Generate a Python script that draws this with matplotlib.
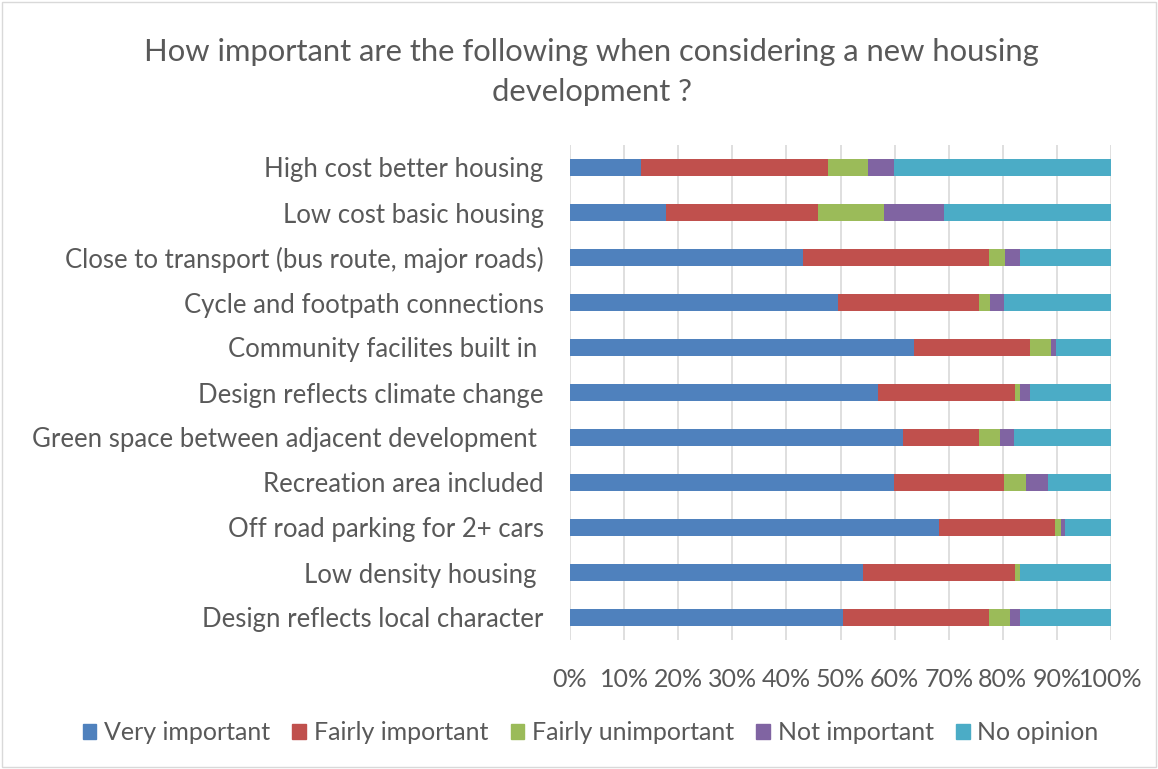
import matplotlib.pyplot as plt
import matplotlib.patches as mpatches
import numpy as np

plt.rcParams['font.family'] = ['Lato', 'DejaVu Sans']

# Survey answers, top row first (percent of respondents)
categories = [
    'High cost better housing',
    'Low cost basic housing',
    'Close to transport (bus route, major roads)',
    'Cycle and footpath connections',
    'Community facilites built in ',
    'Design reflects climate change',
    'Green space between adjacent development ',
    'Recreation area included',
    'Off road parking for 2+ cars',
    'Low density housing ',
    'Design reflects local character',
]
very_important = [13.1, 17.8, 43.0, 49.5, 63.5, 57.0, 61.6, 59.8, 68.2, 54.2, 50.4]
fairly_important = [34.5, 28.0, 34.5, 26.1, 21.6, 25.2, 14.0, 20.5, 21.5, 28.0, 27.1]
fairly_unimportant = [7.5, 12.2, 2.9, 2.0, 3.8, 1.0, 3.9, 4.0, 1.1, 1.0, 3.8]
not_important = [4.7, 11.2, 2.8, 2.7, 0.9, 1.9, 2.6, 4.0, 0.7, 0.0, 1.9]
no_opinion = [40.2, 30.8, 16.8, 19.7, 10.2, 14.9, 17.9, 11.7, 8.5, 16.8, 16.8]

series = [
    ('Very important', very_important, '#4F81BD'),
    ('Fairly important', fairly_important, '#C0504D'),
    ('Fairly unimportant', fairly_unimportant, '#9BBB59'),
    ('Not important', not_important, '#8064A2'),
    ('No opinion', no_opinion, '#4BACC6'),
]

text_color = '#595959'

fig = plt.figure(figsize=(11.58, 7.69), dpi=100)
ax = fig.add_axes([570 / 1158, 1 - 640 / 769, 541 / 1158, 495 / 769])

y = np.arange(len(categories))
left = np.zeros(len(categories))
for name, vals, color in series:
    vals = np.array(vals)
    ax.barh(y, vals, left=left, height=0.38, color=color, label=name, linewidth=0)
    left += vals

ax.set_xlim(0, 100)
ax.set_ylim(len(categories) - 0.5, -0.5)
ax.set_xticks(np.arange(0, 101, 10))
ax.set_xticklabels([f'{v}%' for v in range(0, 101, 10)])
ax.set_yticks(y)
ax.set_yticklabels(categories)
ax.tick_params(axis='x', length=0, pad=20, labelsize=18, labelcolor=text_color)
ax.tick_params(axis='y', length=0, pad=19, labelsize=18.5, labelcolor=text_color)
ax.grid(axis='x', color='#D9D9D9', linewidth=1.2)
ax.set_axisbelow(True)
for s in ax.spines.values():
    s.set_visible(False)

fig.text(0.511, 1 - 72 / 769,
         'How important are the following when considering a new housing\ndevelopment ?',
         ha='center', va='center', fontsize=22.3, color=text_color, linespacing=1.55)

handles = [mpatches.Patch(color=c, label=n) for n, _, c in series]
fig.legend(handles=handles, loc='center', bbox_to_anchor=(0.51, 1 - 733 / 769),
           ncol=5, frameon=False, fontsize=18, labelcolor=text_color,
           handlelength=0.55, handleheight=0.55, handletextpad=0.3, columnspacing=0.9)

# chart area border
fig.patches.append(mpatches.Rectangle((0.002, 0.003), 0.996, 0.994, transform=fig.transFigure,
                                      fill=False, edgecolor='#D9D9D9', linewidth=1))

fig.savefig('out.png', dpi=100)
